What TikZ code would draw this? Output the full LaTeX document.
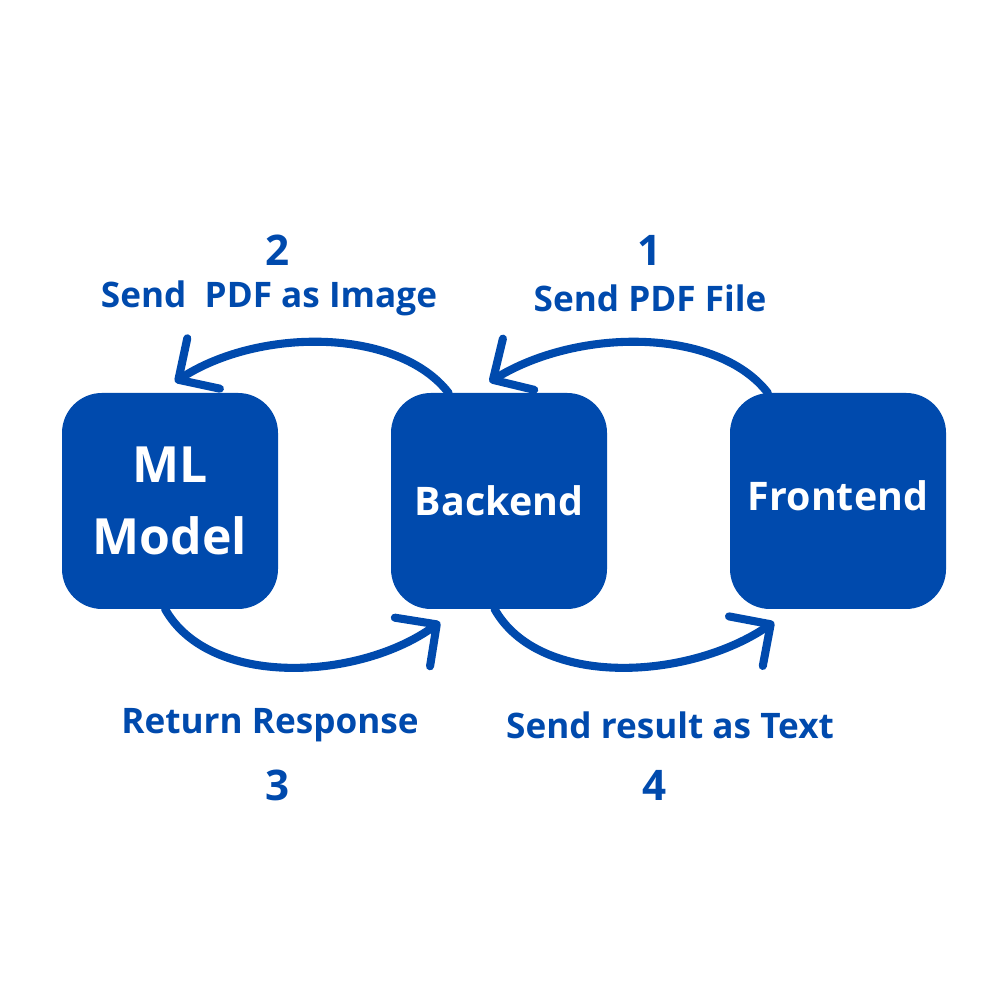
\documentclass[tikz,border=0pt]{standalone}
\usepackage{fontspec}
\setmainfont{Open Sans}
\usetikzlibrary{positioning,arrows.meta}
\definecolor{cobalt}{HTML}{004AAD}
\begin{document}
\begin{tikzpicture}[node distance={11.3mm}, line width=2.3pt, cobalt,
  box/.style = {fill=cobalt, text=white, rounded corners=4mm, minimum size=21.6mm, inner sep=0pt, outer sep=0pt, align=center},
  lbl/.style = {font=\bfseries\fontsize{10}{12}\selectfont, text=cobalt},
  num/.style = {font=\bfseries\fontsize{12}{14}\selectfont, text=cobalt},
  flow/.style = {-{Straight Barb[length=3mm,width=6mm,round]}, line cap=round}]
\useasboundingbox (0,0) rectangle (10,10);
\node[box, font=\bfseries\fontsize{14.2}{20.5}\selectfont] (ml) at (1.70,4.99) {ML\\Model};
\node[box, font=\bfseries\fontsize{11.2}{13}\selectfont] (backend) [right=of ml] {Backend};
\node[box, font=\bfseries\fontsize{11.2}{13}\selectfont] (frontend) [right=12.3mm of backend] {\raisebox{1mm}{Frontend}};
\node[num] (two) at (2.78,7.50) {2};
\node[lbl] (sendimg) at (2.69,7.02) {Send\ \ PDF as Image};
\node[num] (one) at (6.50,7.50) {1};
\node[lbl] (sendpdf) at (6.50,7.02) {Send PDF File};
\node[lbl] (ret) at (2.70,2.75) {Return Response};
\node[num] (three) at (2.78,2.15) {3};
\node[lbl] (sendtxt) at (6.70,2.75) {Send result as Text};
\node[num] (four) at (6.55,2.15) {4};
\draw[flow] (frontend.123) .. controls +(-0.5,0.65) and +(0.9,0.55) .. ([shift={(-0.095,0.11)}]backend.north);
\draw[flow] (backend.115) .. controls +(-0.5,0.65) and +(0.85,0.55) .. ([shift={(0.05,0.11)}]ml.north);
\draw[flow] ([xshift=-0.5mm]ml.south) .. controls +(0.45,-0.8) and +(-0.8,-0.58) .. ([shift={(0.49,-0.13)}]backend.south west);
\draw[flow] ([xshift=-0.45mm]backend.south) .. controls +(0.45,-0.8) and +(-0.85,-0.58) .. ([shift={(0.44,-0.13)}]frontend.south west);
\end{tikzpicture}
\end{document}
